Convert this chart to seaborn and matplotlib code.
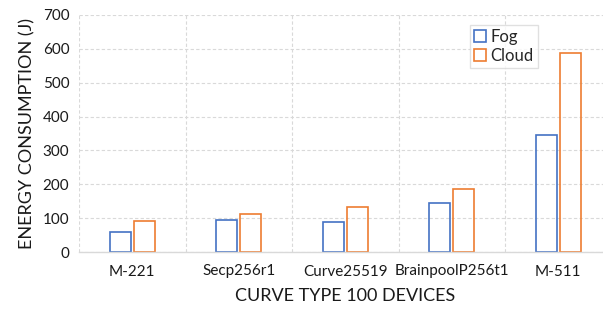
import matplotlib
matplotlib.use("Agg")
import matplotlib.pyplot as plt
import seaborn as sns
import pandas as pd
from matplotlib.patches import Patch

categories = ["M-221", "Secp256r1", "Curve25519", "BrainpoolP256t1", "M-511"]
fog = [60, 94, 89, 146, 345]
cloud = [92, 113, 132, 185, 588]
series = ["Fog", "Cloud"]
colors = ["#4472C4", "#ED7D31"]

df = pd.DataFrame({
    "cat": categories * 2,
    "val": fog + cloud,
    "series": ["Fog"] * len(fog) + ["Cloud"] * len(cloud),
})

sns.set_theme(style="white")
plt.rcParams["font.family"] = ["Lato", "DejaVu Sans"]

fig = plt.figure(figsize=(6.03, 3.14), dpi=100)
ax = fig.add_axes([79 / 603, 1 - 252 / 314, 532.5 / 603, 237 / 314])

sns.barplot(data=df, x="cat", y="val", hue="series", order=categories,
            hue_order=series, palette=colors, width=0.45, gap=0.12,
            fill=False, linewidth=1.2, ax=ax, legend=False, errorbar=None)

ax.set_xlim(-0.5, 4.5)
ax.set_ylim(0, 700)
ax.set_yticks(range(0, 701, 100))
ax.set_xticks(range(len(categories)))
ax.set_xticks([i - 0.5 for i in range(len(categories) + 1)], minor=True)
ax.tick_params(axis="x", which="minor", length=0)
ax.tick_params(axis="both", which="major", length=0, labelsize=11, colors="#1a1a1a")
ax.tick_params(axis="x", pad=9)
ax.tick_params(axis="y", pad=7)
ax.grid(True, axis="y", which="major", color="#D9D9D9", linestyle=(0, (3, 2)), linewidth=0.8)
ax.grid(True, axis="x", which="minor", color="#D9D9D9", linestyle=(0, (3, 2)), linewidth=0.8)
ax.set_axisbelow(True)
for s in ["top", "right", "left"]:
    ax.spines[s].set_visible(False)
ax.spines["bottom"].set_color("#D9D9D9")
ax.spines["bottom"].set_linewidth(1.0)

ax.set_xlabel("CURVE TYPE 100 DEVICES", fontsize=13, labelpad=7, color="#1a1a1a")
ax.set_ylabel("ENERGY CONSUMPTION (J)", fontsize=13, labelpad=5, color="#1a1a1a")

handles = [Patch(facecolor="white", edgecolor=c, linewidth=1.2, label=l) for c, l in zip(colors, series)]
leg = ax.legend(handles=handles, loc="upper left", bbox_to_anchor=(0.734, 0.958),
                fontsize=12, frameon=True, fancybox=False, handlelength=0.7,
                handleheight=0.7, handletextpad=0.3, borderpad=0.25, labelspacing=0.15,
                borderaxespad=0)
leg.get_frame().set_edgecolor("#D9D9D9")
leg.get_frame().set_linewidth(1.0)

fig.savefig("out.png", dpi=100)
